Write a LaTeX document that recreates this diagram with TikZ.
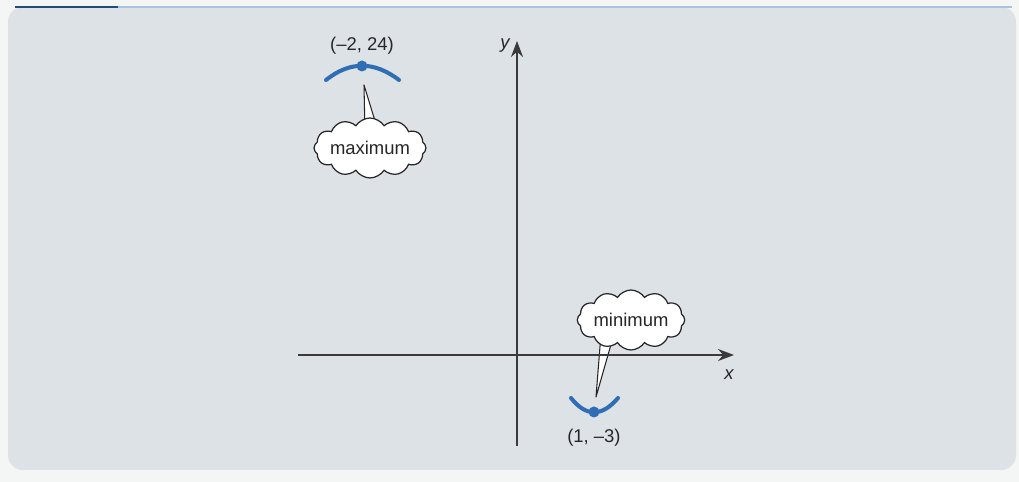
\documentclass[tikz,border=0pt]{standalone}
\usepackage{fontspec}
\setmainfont{Liberation Sans}
\usepackage{tikz}
\usetikzlibrary{arrows.meta, positioning, calc, shapes.symbols}
\definecolor{cPanel}{HTML}{DCE2E5}
\definecolor{cPage}{HTML}{F4F5F5}
\definecolor{cCurve}{HTML}{2F6DB5}
\definecolor{cAxis}{HTML}{3A3A3A}
\definecolor{cRule}{HTML}{1F4E79}
\definecolor{cRuleLight}{HTML}{A9C4DC}
\pgfdeclarelayer{panel}
\pgfdeclarelayer{tails}
\pgfsetlayers{panel,tails,main}

\begin{document}
\begin{tikzpicture}[
  x=0.02cm, y=-0.02cm,
  txt/.style={font=\fontsize{10.5}{12}\selectfont, text=black!85, inner sep=1pt},
  axis/.style={draw=cAxis, line width=0.8pt, -{Stealth[length=3.2mm, width=2.4mm]}},
  curve/.style={draw=cCurve, line width=2.3pt, line cap=round},
  dot/.style={circle, fill=cCurve, inner sep=0pt, minimum size=0.22cm},
  bubble/.style={cloud, cloud puffs=12, cloud puff arc=115, cloud ignores aspect,
    draw=black!85, fill=white, line width=0.7pt, inner sep=0pt, text=black!85,
    minimum width=2.15cm, minimum height=1.2cm, font=\fontsize{10.5}{12}\selectfont},
  pointer/.style={draw=black!85, fill=white, line width=0.6pt, line join=round}
]
% page and panel
\begin{pgfonlayer}{panel}
\fill[cPage] (0,0) rectangle (1019,482);
\fill[cPanel, rounded corners=0.3cm] (8,7) rectangle (1016,470);
\draw[cRuleLight, line width=1.2pt] (118,7) -- (1012,7);
\draw[cRule, line width=1.2pt] (15,7) -- (118,7);
\end{pgfonlayer}

% axes
\coordinate (xfrom) at (298,355);
\coordinate (xto) at (734,355);
\coordinate (yfrom) at (517,446);
\coordinate (yto) at (517,41);
\draw[axis] (xfrom) -- (xto);
\draw[axis] (yfrom) -- (yto);
\node[txt, font=\fontsize{10.5}{12}\selectfont\itshape] (xlab) at (729,375) {x};
\node[txt, font=\fontsize{10.5}{12}\selectfont\itshape] (ylab) at (505,46) {y};

% turning points
\draw[curve] (326,80) .. controls (350,61) and (374,61) .. (399,80);
\node[dot] (maxpt) at (362,66) {};
\node[txt, above=0.08cm of maxpt] (maxlab) {(\textendash2, 24)};
\draw[curve] (571,398) .. controls (586,417) and (602,417) .. (618,398);
\node[dot] (minpt) at (594,412) {};
\node[txt, below=0.18cm of minpt] (minlab) {(1, \textendash3)};

% callouts
\coordinate (maxtip) at (364,85);
\coordinate (mintip) at (596,397);
\node[bubble] (maxcloud) at (370,148) {maximum};
\node[bubble] (mincloud) at (631,320) {minimum};
\begin{pgfonlayer}{tails}
\draw[pointer] ($(maxcloud.center)+(-5,-14)$) -- (maxtip) -- ($(maxcloud.center)+(9,-14)$);
\draw[pointer] ($(mincloud.center)+(-30,14)$) -- (mintip) -- ($(mincloud.center)+(-17,14)$);
\end{pgfonlayer}
\end{tikzpicture}
\end{document}
